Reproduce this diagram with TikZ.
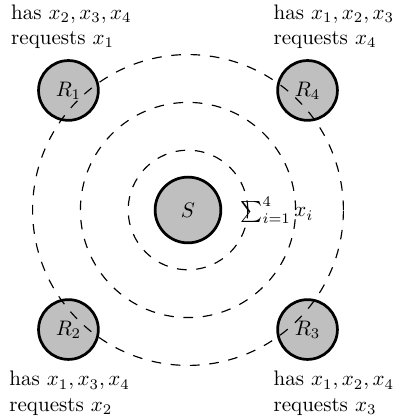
\documentclass[tikz,border=0pt]{standalone}
\usetikzlibrary{positioning}
\begin{document}
\begin{tikzpicture}[
peer/.style = {circle, draw, line width=1.3pt, fill=black!25, minimum size=1cm, inner sep=0pt},
ring/.style = {dash pattern=on 4.6pt off 4.6pt, line width=0.55pt},
info/.style = {align=left}]
\useasboundingbox (-3.145,-3.48) rectangle (3.463,3.513);
\node[peer, minimum size=1.1cm] (S) at (0,0) {$S$};
\node[peer] (R1) at (-2,2) {$R_1$};
\node[peer] (R2) at (-2,-2) {$R_2$};
\node[peer] (R3) at (2,-2) {$R_3$};
\node[peer] (R4) at (2,2) {$R_4$};
\node[right=0.18cm of S] (sum) {$\sum_{i=1}^4 x_i$};
\node[info, above=1.5pt of R1, xshift=0.05cm] (t1) {has $x_2, x_3, x_4$\\ requests $x_1$};
\node[info, below=1.5pt of R2, xshift=0.02cm] (t2) {has $x_1, x_3, x_4$\\ requests $x_2$};
\node[info, below=1.5pt of R3, xshift=0.44cm] (t3) {has $x_1, x_2, x_4$\\ requests $x_3$};
\node[info, above=1.5pt of R4, xshift=0.44cm] (t4) {has $x_1, x_2, x_3$\\ requests $x_4$};
\foreach \r in {1,1.8,2.6}
   \draw[ring] (S.center) circle (\r);
\end{tikzpicture}
\end{document}
